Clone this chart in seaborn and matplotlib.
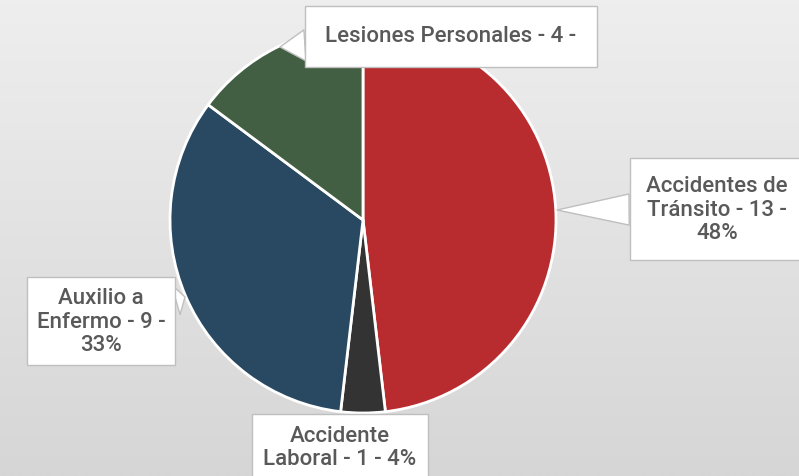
import numpy as np
import seaborn as sns
import matplotlib.pyplot as plt

sns.set_style("white")
plt.rcParams['font.family'] = ['Roboto', 'DejaVu Sans']

# data
categorias = ['Accidentes de\nTránsito - 13 -\n48%', 'Accidente\nLaboral - 1 - 4%',
              'Auxilio a\nEnfermo - 9 -\n33%', 'Lesiones Personales - 4 -']
valores = [13, 1, 9, 4]
colores = ['#b82c30', '#333333', '#284961', '#435f43']

W, H = 799, 477
fig = plt.figure(figsize=(W / 100, H / 100), dpi=100)

# gradient background
bg = fig.add_axes([0, 0, 1, 1])
grad = np.linspace(0, 1, 256).reshape(-1, 1)
bg.imshow(grad, aspect='auto', cmap=sns.light_palette('#d6d6d6', as_cmap=True),
          extent=[0, 1, 0, 1], origin='upper', vmin=-0.1, vmax=1.0)
bg.axis('off')

ax = fig.add_axes([0, 0, 1, 1])
ax.patch.set_alpha(0)

cx, cy, r = 363, H - 221, 193
wedges, _ = ax.pie(valores, colors=colores, startangle=90, counterclock=False,
                   center=(cx, cy), radius=r, frame=True,
                   wedgeprops=dict(edgecolor='white', linewidth=2))
ax.set_xlim(0, W)
ax.set_ylim(0, H)
ax.set_aspect('equal')
ax.axis('off')

# label positions (box centre, pointer tip)
etiquetas = [
    dict(txt=categorias[0], xy=(557, H - 211), xt=(717, H - 210), pad=0.75),
    dict(txt=categorias[1], xy=None, xt=(340, H - 448), pad=0.5),
    dict(txt=categorias[2], xy=(185, H - 298), xt=(101, H - 322), pad=0.45),
    dict(txt=categorias[3], xy=(280, H - 48), xt=(451, H - 37), pad=0.9),
]
for e in etiquetas:
    bbox = dict(boxstyle='square,pad=%s' % e['pad'], fc='white', ec='#bfbfbf', lw=1)
    if e['xy'] is None:
        ax.text(*e['xt'], e['txt'], ha='center', va='center', fontsize=16, fontweight='medium',
                color='#595959', linespacing=1.15, bbox=bbox, zorder=5)
    else:
        ax.annotate(e['txt'], xy=e['xy'], xytext=e['xt'], ha='center', va='center',
                    fontsize=16, fontweight='medium', color='#595959', linespacing=1.15,
                    bbox=bbox, zorder=5,
                    arrowprops=dict(arrowstyle='wedge,tail_width=1.4', fc='white',
                                    ec='#bfbfbf', lw=1, shrinkA=0, shrinkB=0))

fig.savefig('out.png', dpi=100)
